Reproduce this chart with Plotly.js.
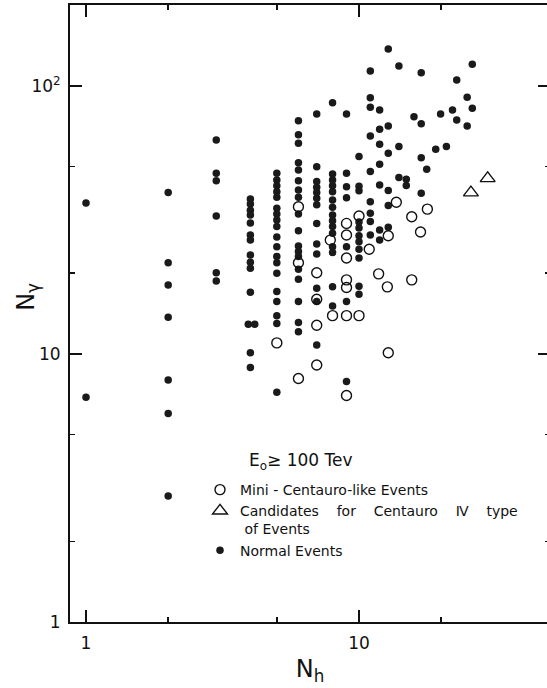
<!DOCTYPE html>
<html><head><meta charset="utf-8">
<script src="https://cdn.plot.ly/plotly-3.0.1.min.js"></script>
<style>html,body{margin:0;padding:0;overflow:hidden;background:#fff}</style>
</head><body><div id="chart" style="width:550px;height:688px"></div>
<script>
// ---- data ----
const normalNh = [
  1, 1,
  2, 2, 2, 2, 2, 2, 2,
  3, 3, 3, 3, 3, 3,
  4, 4, 4, 4, 4, 4, 4, 4, 4, 4, 4, 3.93, 4.15, 4, 4,
  5, 5, 5, 5, 5, 5, 5, 5, 5, 5, 5, 5, 5, 5, 5, 5, 5, 5, 5,
  6, 6, 6, 6, 6, 6, 6, 6, 6, 6, 6, 6, 6, 6, 6, 6, 6, 6,
  7, 7, 7, 7, 7, 7, 7, 7, 7, 7, 7, 7, 7,
  8, 8, 8, 8, 8, 8, 8, 8, 8, 8, 8, 8, 8, 8, 8,
  9, 9, 9, 9, 9, 9, 9,
  10, 10, 10, 10, 10, 10, 10, 10, 10, 10, 10,
  11, 11, 11, 11, 11, 11, 11, 11, 11,
  11.9, 11.9, 11.9, 11.9, 11.9, 11.9, 11.9,
  12.8, 12.8, 12.8, 12.8, 12.8, 12.8,
  14, 14, 14,
  14.9, 14.9,
  15.9,
  16.9, 16.9, 16.9, 16.9,
  17.7, 19.1, 19.9, 20.9, 22.0, 22.8, 22.8, 24.9, 24.9, 26.0, 26.0
];
const normalNgamma = [
  36.6, 6.9,
  40.0, 21.9, 18.1, 13.7, 8.0, 6.0, 2.95,
  62.9, 47.2, 44.3, 32.7, 20.1, 18.7,
  37.9, 36.3, 34.4, 33.0, 30.8, 27.8, 26.6, 23.4, 22.0, 20.9, 17.0, 12.9, 12.9, 10.1, 8.9,
  47.2, 44.6, 42.4, 40.3, 38.4, 35.0, 33.3, 31.6, 29.9, 27.3, 25.1, 23.1, 21.9, 20.0, 17.1, 15.7, 13.9, 13.0, 7.2,
  74.2, 65.7, 61.1, 51.7, 48.6, 44.3, 40.9, 38.4, 33.3, 28.8, 25.3, 24.1, 23.1, 20.7, 19.0, 15.7, 13.1, 12.1,
  78.6, 50.0, 44.0, 41.9, 40.0, 38.1, 36.0, 30.7, 25.7, 23.6, 17.6, 15.7, 10.8,
  86.6, 46.9, 44.6, 42.4, 40.3, 37.5, 35.3, 33.0, 31.4, 29.9, 28.2, 25.1, 23.9, 17.8, 15.1,
  78.6, 47.2, 42.1, 38.3, 25.1, 15.7, 7.9,
  54.5, 42.2, 40.6, 31.1, 29.5, 27.6, 26.2, 24.6, 22.8, 17.9, 16.7,
  113.7, 90.4, 83.2, 65.1, 47.9, 37.0, 33.5, 31.2, 27.8,
  81.4, 68.9, 60.6, 51.0, 42.7, 29.0, 26.6,
  137.4, 70.9, 56.1, 40.7, 35.8, 29.7,
  118.8, 59.4, 45.5,
  44.9, 42.5,
  76.8,
  112.1, 72.3, 54.0, 39.8,
  48.9, 58.0, 78.6, 59.4, 81.4, 105.3, 74.7, 90.7, 70.9, 120.5, 82.6
];
const miniNh = [
  5,
  6, 6, 6,
  7, 7, 7, 7,
  7.85, 8,
  9, 9, 9, 9, 9, 9, 9,
  10, 10,
  10.9, 11.8,
  12.8, 12.7, 12.8,
  13.7,
  15.6, 15.6,
  16.8, 17.8
];
const miniNgamma = [
  11.0,
  35.4, 21.9, 8.1,
  20.1, 16.0, 12.8, 9.1,
  26.6, 13.9,
  30.7, 27.8, 22.8, 18.9, 17.7, 13.9, 7.0,
  32.7, 13.9,
  24.6, 19.9,
  27.6, 17.8, 10.1,
  36.8,
  32.5, 18.9,
  28.5, 34.7
];
const centauroNh = [25.7, 29.6];
const centauroNgamma = [40.0, 45.2];

const S = "\u00a0";
const seriesNames = [
  "Mini - Centauro-like Events",
  "Candidates" + S.repeat(4) + "for" + S.repeat(4) + "Centauro" + S.repeat(4) + "\u2163" + S.repeat(4) + "type<br>" + S + "of Events",
  "Normal Events"
];
const xTickVals = [1, 10], xTickText = ["1", "10"];
const yTickVals = [1, 10, 100], yTickText = ["1", "10", "10<sup>2</sup>"];
const xMinorVals = [2, 5, 20], yMinorVals = [2, 5, 20, 50];

const FONT = "DejaVu Sans, Liberation Sans, sans-serif";
const INK = "#111";

const traces = [
  {x: normalNh, y: normalNgamma, type: "scatter", mode: "markers", name: seriesNames[2], legendrank: 3,
   marker: {symbol: "circle", size: 7.5, color: "#1a1a1a", line: {width: 0}}},
  {x: miniNh, y: miniNgamma, type: "scatter", mode: "markers", name: seriesNames[0], legendrank: 1,
   marker: {symbol: "circle-open", size: 10, color: INK, line: {width: 1.4, color: INK}}},
  {x: centauroNh, y: centauroNgamma, type: "scatter", mode: "markers", name: seriesNames[1], legendrank: 2,
   marker: {symbol: "triangle-up-open", size: 13, color: INK, line: {width: 1.4, color: INK}}}
];

const axisCommon = {
  type: "log", showgrid: false, zeroline: false, showline: true, linecolor: INK, linewidth: 2,
  mirror: "ticks", ticks: "inside", ticklen: 12, tickwidth: 1.6, tickcolor: INK,
  tickmode: "array", tickfont: {family: FONT, size: 17, color: INK}
};

const layout = {
  width: 550, height: 688,
  margin: {l: 70, r: 0, t: 5, b: 66},
  paper_bgcolor: "#fff", plot_bgcolor: "#fff",
  showlegend: true,
  legend: {x: (200 - 70) / 480, y: (622 - 474) / 617, xanchor: "left", yanchor: "top", bgcolor: "rgba(0,0,0,0)",
           font: {family: FONT, size: 14, color: INK}, valign: "top", itemsizing: "trace",
           tracegroupgap: 0},
  xaxis: Object.assign({}, axisCommon, {
    range: [-0.0586, 1.6996], tickvals: xTickVals, ticktext: xTickText, ticklabelstandoff: 5,
    minor: {tickmode: "array", tickvals: xMinorVals, ticks: "inside", ticklen: 5, tickwidth: 1.6, tickcolor: INK},
    title: {text: "N<sub>h</sub>", font: {family: FONT, size: 24, color: INK}, standoff: 8}
  }),
  yaxis: Object.assign({}, axisCommon, {
    range: [0, 2.302], tickvals: yTickVals, ticktext: yTickText, ticklabelstandoff: 4,
    minor: {tickmode: "array", tickvals: yMinorVals, ticks: "inside", ticklen: 5, tickwidth: 1.6, tickcolor: INK}
  }),
  annotations: [
    {xref: "paper", yref: "paper", x: -0.0875, y: 0.527, xanchor: "center", yanchor: "middle",
     text: "N<sub>\u03b3</sub>", textangle: -90, showarrow: false, font: {family: FONT, size: 24, color: INK}},
    {xref: "paper", yref: "paper", x: (247 - 70) / 480, y: (622 - 462) / 617, xanchor: "left", yanchor: "middle",
     text: "E<sub>o</sub>\u2265 100 Tev", showarrow: false, font: {family: FONT, size: 17, color: INK}}
  ]
};

Plotly.newPlot("chart", traces, layout, {displayModeBar: false, staticPlot: true});
</script></body></html>
